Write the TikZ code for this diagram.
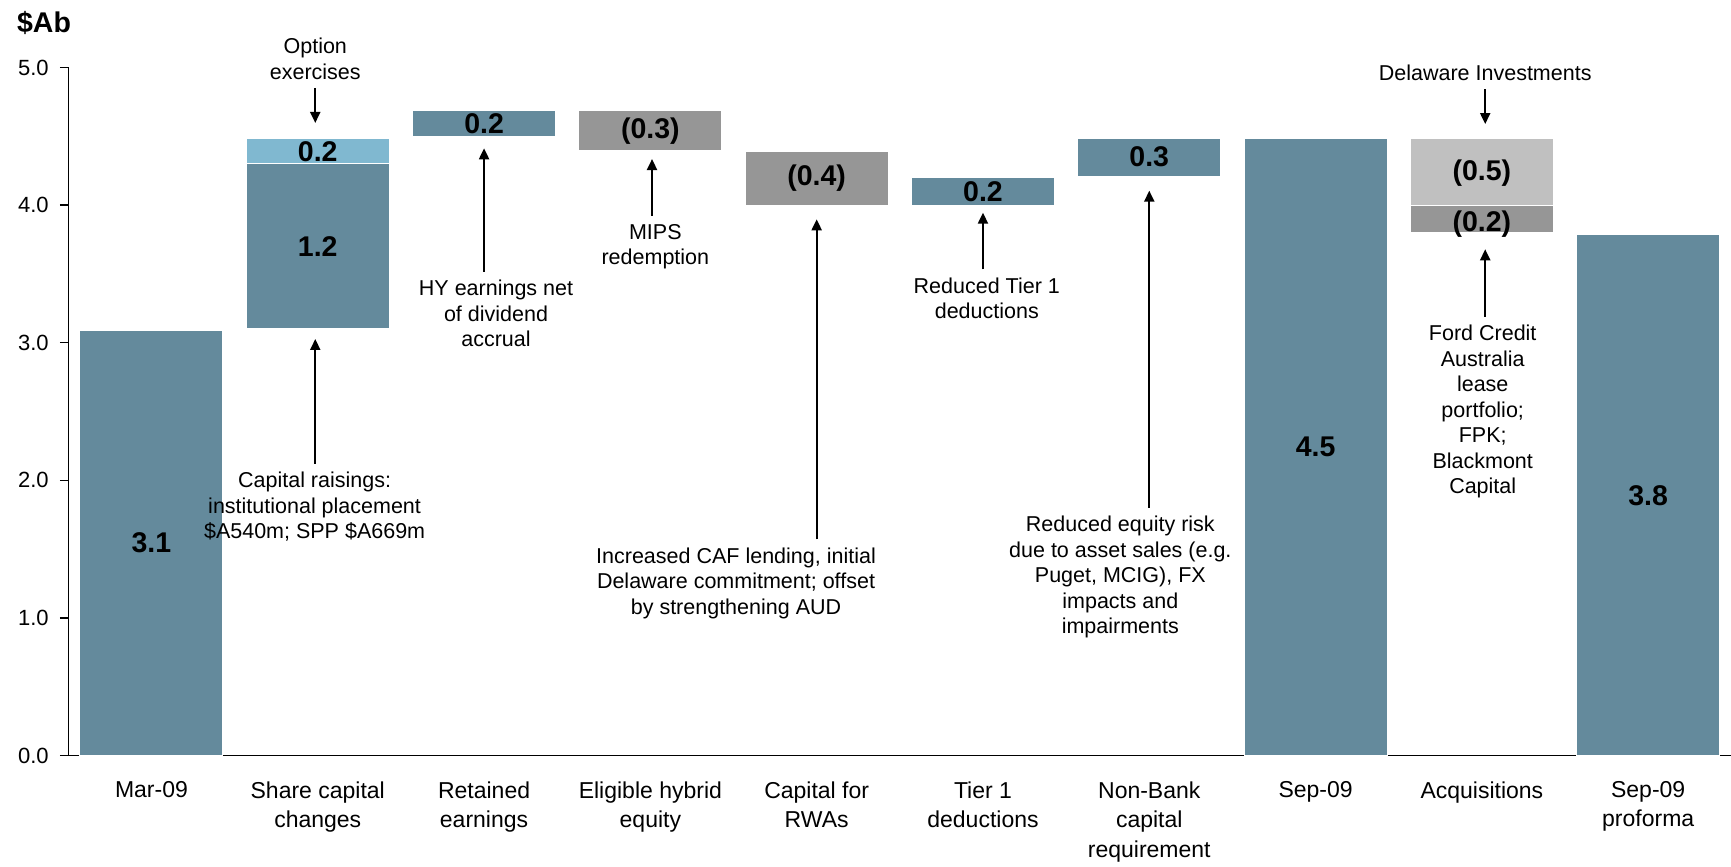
\documentclass[tikz,border=0pt]{standalone}
\usepackage{fontspec}
\setmainfont{Liberation Sans}
\usetikzlibrary{arrows.meta}
\definecolor{barblue}{RGB}{100,138,156}
\definecolor{barlight}{RGB}{128,184,208}
\definecolor{bargray}{RGB}{150,150,150}
\definecolor{barpale}{RGB}{192,192,192}

\begin{document}
\begin{tikzpicture}[x=83.15pt, y=68.8pt,
	bar/.style={draw=white, line width=0.5pt},
	val/.style={font=\fontsize{14.25}{16}\selectfont\bfseries, inner sep=0pt},
	tick/.style={font=\fontsize{11}{13}\selectfont, inner sep=0pt, anchor=east},
	note/.style={font=\fontsize{10.75}{12.75}\selectfont, align=center, inner xsep=0pt, inner ysep=4pt},
	cat/.style={font=\fontsize{11.5}{14.75}\selectfont, align=center, inner sep=0pt, anchor=north},
	arr/.style={-{Triangle[length=5.5pt,width=5pt]}, line width=1pt}]
	\useasboundingbox (-0.4107,-0.803) rectangle (9.998,5.4906);

	% axes
	\draw[line width=0.7pt] (0,5) -- (0,0) -- (9.998,0);
	\draw[line width=0.7pt] (-0.05,0) -- (0,0);
	\draw[line width=0.7pt] (-0.05,1) -- (0,1);
	\draw[line width=0.7pt] (-0.05,2) -- (0,2);
	\draw[line width=0.7pt] (-0.05,3) -- (0,3);
	\draw[line width=0.7pt] (-0.05,4) -- (0,4);
	\draw[line width=0.7pt] (-0.05,5) -- (0,5);
	\node[tick] at (-0.116,0) (t0) {0.0};
	\node[tick] at (-0.116,1) (t1) {1.0};
	\node[tick] at (-0.116,2) (t2) {2.0};
	\node[tick] at (-0.116,3) (t3) {3.0};
	\node[tick] at (-0.116,4) (t4) {4.0};
	\node[tick] at (-0.116,5) (t5) {5.0};
	\node[val, anchor=west] at (-0.310,5.321) (unit) {\$Ab};

	% bars
	\draw[bar, fill=barblue] (0.07,0) rectangle (0.93,3.09);
	\draw[bar, fill=barblue] (1.07,3.10) rectangle (1.93,4.30);
	\draw[bar, fill=barlight] (1.07,4.30) rectangle (1.93,4.485);
	\draw[bar, fill=barblue] (2.07,4.50) rectangle (2.93,4.69);
	\draw[bar, fill=bargray] (3.07,4.40) rectangle (3.93,4.69);
	\draw[bar, fill=bargray] (4.07,4.00) rectangle (4.93,4.39);
	\draw[bar, fill=barblue] (5.07,4.00) rectangle (5.93,4.20);
	\draw[bar, fill=barblue] (6.07,4.21) rectangle (6.93,4.485);
	\draw[bar, fill=barblue] (7.07,0) rectangle (7.93,4.485);
	\draw[bar, fill=barpale] (8.07,4.00) rectangle (8.93,4.485);
	\draw[bar, fill=bargray] (8.07,3.80) rectangle (8.93,4.00);
	\draw[bar, fill=barblue] (9.07,0) rectangle (9.93,3.785);

	% values
	\node[val] at (0.5,1.545) (v1) {3.1};
	\node[val] at (1.5,3.70) (v2) {1.2};
	\node[val] at (1.5,4.39) (v3) {0.2};
	\node[val] at (2.5,4.595) (v4) {0.2};
	\node[val] at (3.5,4.54) (v5) {(0.3)};
	\node[val] at (4.5,4.195) (v6) {(0.4)};
	\node[val] at (5.5,4.10) (v7) {0.2};
	\node[val] at (6.5,4.35) (v8) {0.3};
	\node[val] at (7.5,2.24) (v9) {4.5};
	\node[val] at (8.5,4.235) (v10) {(0.5)};
	\node[val] at (8.5,3.86) (v11) {(0.2)};
	\node[val] at (9.5,1.89) (v12) {3.8};

	% categories
	\node[cat] at (0.5,-0.185) (c1) {Mar-09};
	\node[cat] at (1.5,-0.185) (c2) {Share capital\\changes};
	\node[cat] at (2.5,-0.185) (c3) {Retained\\earnings};
	\node[cat] at (3.5,-0.185) (c4) {Eligible hybrid\\equity};
	\node[cat] at (4.5,-0.185) (c5) {Capital for\\RWAs};
	\node[cat] at (5.5,-0.185) (c6) {Tier 1\\deductions};
	\node[cat] at (6.5,-0.185) (c7) {Non-Bank\\capital\\requirement};
	\node[cat] at (7.5,-0.185) (c8) {Sep-09};
	\node[cat] at (8.5,-0.185) (c9) {Acquisitions};
	\node[cat] at (9.5,-0.185) (c10) {Sep-09\\proforma};

	% notes
	\coordinate (optTip) at (1.485,4.597);
	\coordinate (capTip) at (1.485,3.027);
	\coordinate (hyTip) at (2.5,4.413);
	\coordinate (mipsTip) at (3.51,4.335);
	\coordinate (cafTip) at (4.5,3.897);
	\coordinate (tierTip) at (5.5,3.945);
	\coordinate (eqTip) at (6.5,4.105);
	\coordinate (delTip) at (8.52,4.589);
	\coordinate (fordTip) at (8.52,3.679);

	\node[note, anchor=south] at (1.485,4.851) (opt) {Option\\exercises};
	\node[note, anchor=north] at (1.481,2.121) (cap) {Capital raisings:\\institutional placement\\\$A540m; SPP \$A669m};
	\node[note, anchor=north] at (2.572,3.516) (hy) {HY earnings net\\of dividend\\accrual};
	\node[note, anchor=north] at (3.53,3.921) (mips) {MIPS\\redemption};
	\node[note, anchor=north] at (4.015,1.571) (caf) {Increased CAF lending, initial\\Delaware commitment; offset\\by strengthening AUD};
	\node[note, anchor=north] at (5.523,3.533) (tier) {Reduced Tier 1\\deductions};
	\node[note, anchor=north] at (6.326,1.80) (eq) {Reduced equity risk\\due to asset sales (e.g.\\Puget, MCIG), FX\\impacts and\\impairments};
	\node[note, anchor=south] at (8.52,4.841) (del) {Delaware Investments};
	\node[note, anchor=north] at (8.505,3.189) (ford) {Ford Credit\\Australia\\lease\\portfolio;\\FPK;\\Blackmont\\Capital};

	\draw[arr] (opt.south -| optTip) -- (optTip);
	\draw[arr] (cap.north -| capTip) -- (capTip);
	\draw[arr] (hy.north -| hyTip) -- (hyTip);
	\draw[arr] (mips.north -| mipsTip) -- (mipsTip);
	\draw[arr] (caf.north -| cafTip) -- (cafTip);
	\draw[arr] (tier.north -| tierTip) -- (tierTip);
	\draw[arr] (eq.north -| eqTip) -- (eqTip);
	\draw[arr] (del.south -| delTip) -- (delTip);
	\draw[arr] (ford.north -| fordTip) -- (fordTip);
\end{tikzpicture}
\end{document}
